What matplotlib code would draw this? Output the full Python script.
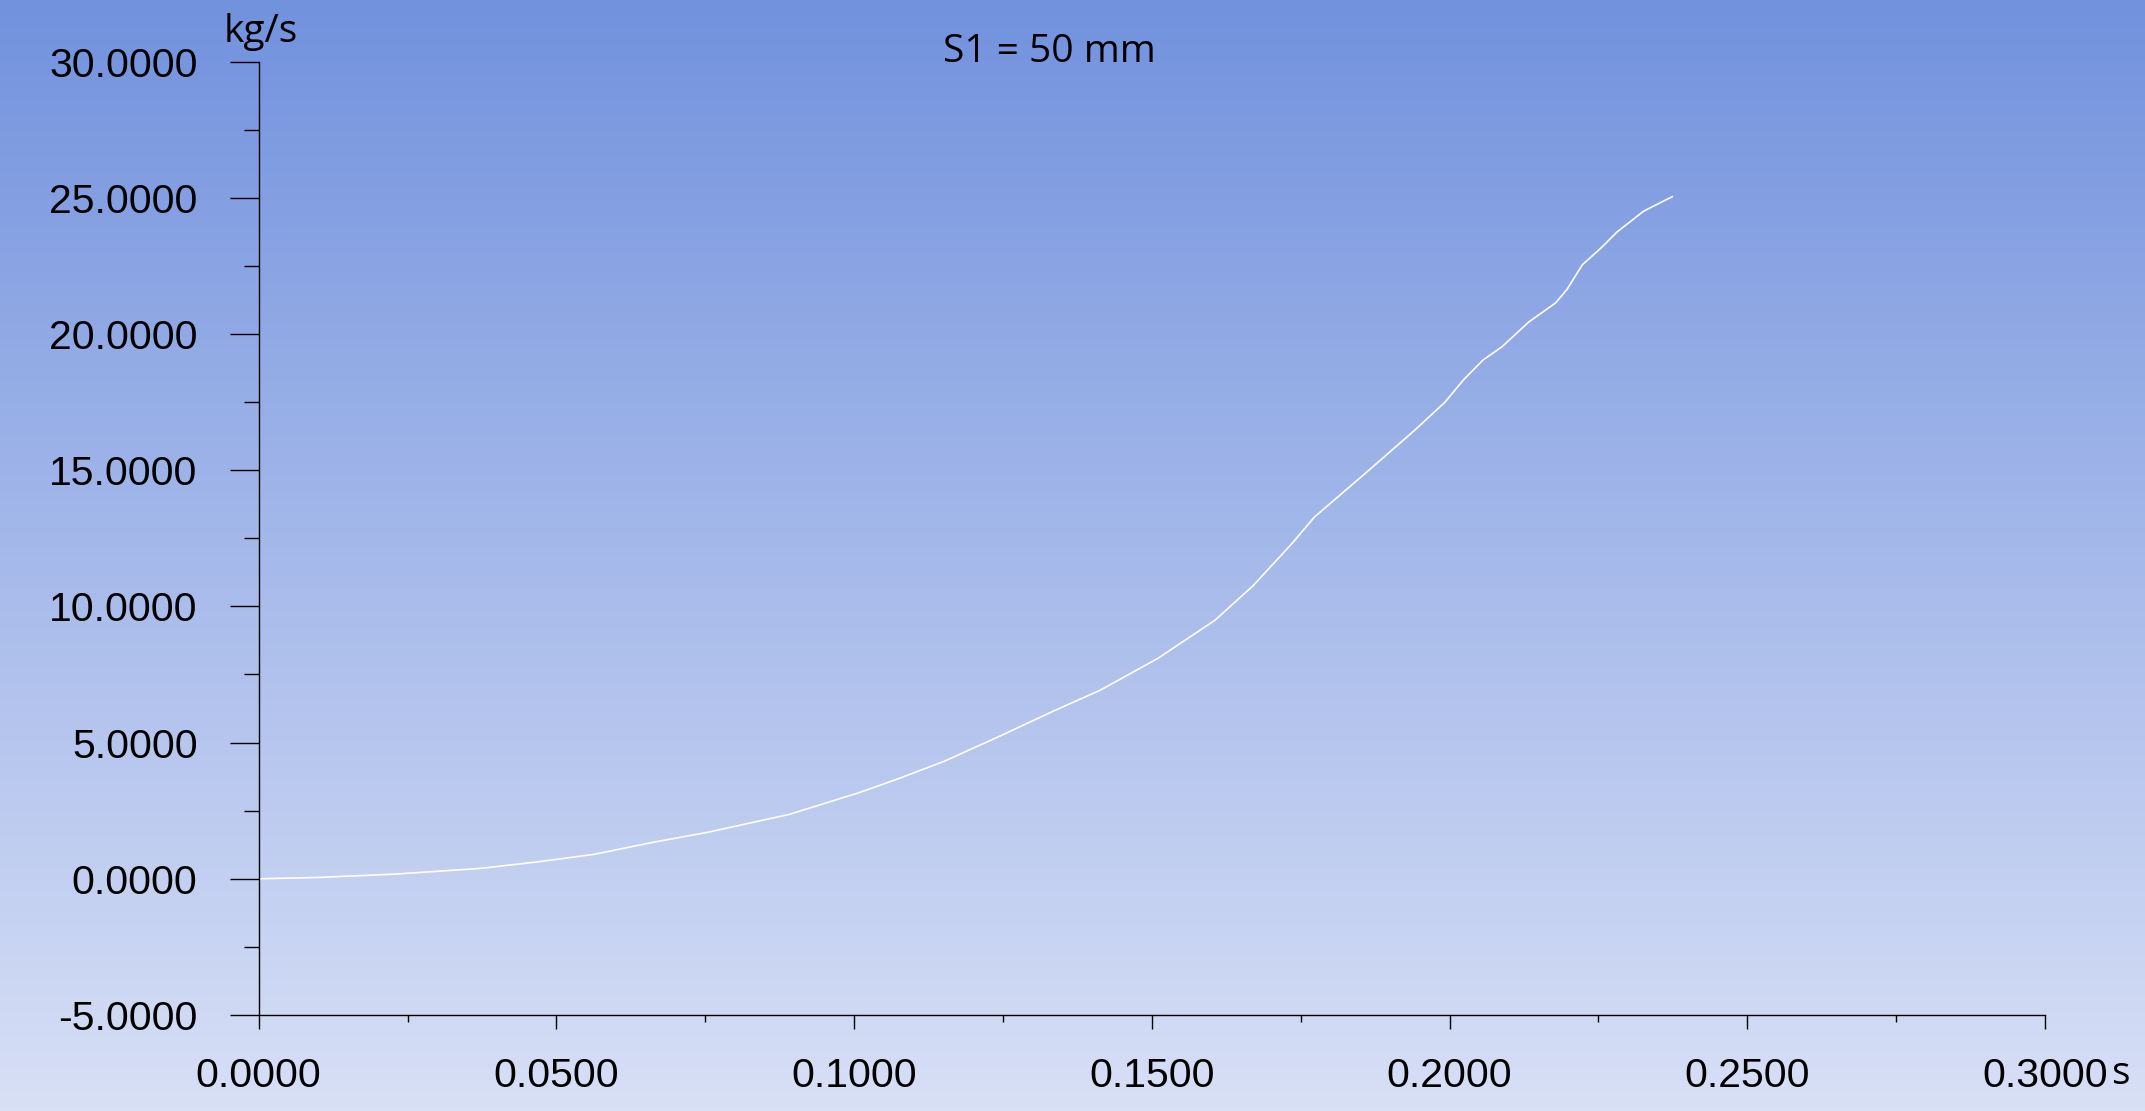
import numpy as np
import matplotlib
matplotlib.use("Agg")
import matplotlib.pyplot as plt
from matplotlib.ticker import MultipleLocator, FormatStrFormatter

# Mass flow vs time

time_s = [0.0, 0.0101, 0.0227, 0.0371, 0.0468, 0.0564, 0.0660, 0.0757, 0.0892,
          0.1008, 0.1075, 0.1152, 0.1239, 0.1335, 0.1413, 0.1510, 0.1606, 0.1670,
          0.1735, 0.1773, 0.1863, 0.1940, 0.1992, 0.2024, 0.2056, 0.2088, 0.2133,
          0.2178, 0.2197, 0.2223, 0.2255, 0.2281, 0.2326, 0.2374]
mass_flow = [0.0, 0.05, 0.17, 0.38, 0.62, 0.90, 1.33, 1.72, 2.37,
             3.16, 3.68, 4.32, 5.18, 6.16, 6.92, 8.09, 9.49, 10.76,
             12.30, 13.28, 14.97, 16.44, 17.49, 18.33, 19.04, 19.53, 20.44,
             21.14, 21.63, 22.54, 23.17, 23.74, 24.51, 25.04]

title = "S1 = 50 mm"
y_unit = "kg/s"
x_unit = "s"

fig = plt.figure(figsize=(21.45, 11.11), dpi=100)

# vertical gradient background
bg = fig.add_axes([0, 0, 1, 1], zorder=-10)
top_col = np.array([114, 146, 222]) / 255
bot_col = np.array([216, 224, 246]) / 255
frac = np.linspace(0, 1, 256)[:, None]
grad = top_col[None, :] * (1 - frac) + bot_col[None, :] * frac
bg.imshow(grad[:, None, :], aspect="auto", extent=[0, 1, 0, 1])
bg.axis("off")

ax = fig.add_axes([0.1206, 0.0864, 0.9534 - 0.1206, 0.9446 - 0.0864])
ax.patch.set_alpha(0)
ax.plot(time_s, mass_flow, color="white", lw=1.2)

ax.set_xlim(0, 0.3)
ax.set_ylim(-5, 30)
ax.xaxis.set_major_locator(MultipleLocator(0.05))
ax.xaxis.set_minor_locator(MultipleLocator(0.025))
ax.yaxis.set_major_locator(MultipleLocator(5))
ax.yaxis.set_minor_locator(MultipleLocator(2.5))
ax.xaxis.set_major_formatter(FormatStrFormatter("%.4f"))
ax.yaxis.set_major_formatter(FormatStrFormatter("%.4f"))

for side in ["top", "right"]:
    ax.spines[side].set_visible(False)
for side in ["left", "bottom"]:
    ax.spines[side].set_linewidth(1.0)
    ax.spines[side].set_color("black")

ax.tick_params(axis="y", which="major", direction="out", length=21, width=1.0,
               pad=23, labelsize=29.5)
ax.tick_params(axis="y", which="minor", direction="out", length=11, width=1.0)
ax.tick_params(axis="x", which="major", direction="out", length=10, width=1.0,
               pad=20, labelsize=29.5)
ax.tick_params(axis="x", which="minor", direction="out", length=5, width=1.0)
for lbl in ax.get_xticklabels() + ax.get_yticklabels():
    lbl.set_fontfamily("Liberation Sans")

fig.text(0.489, 0.953, title, family="Open Sans", fontsize=28,
         ha="center", va="center")
fig.text(0.1215, 0.971, y_unit, family="Open Sans", fontsize=28,
         ha="center", va="center")
fig.text(0.9885, 0.033, x_unit, family="Open Sans", fontsize=28,
         ha="center", va="center")

fig.savefig("out.png", dpi=100)
